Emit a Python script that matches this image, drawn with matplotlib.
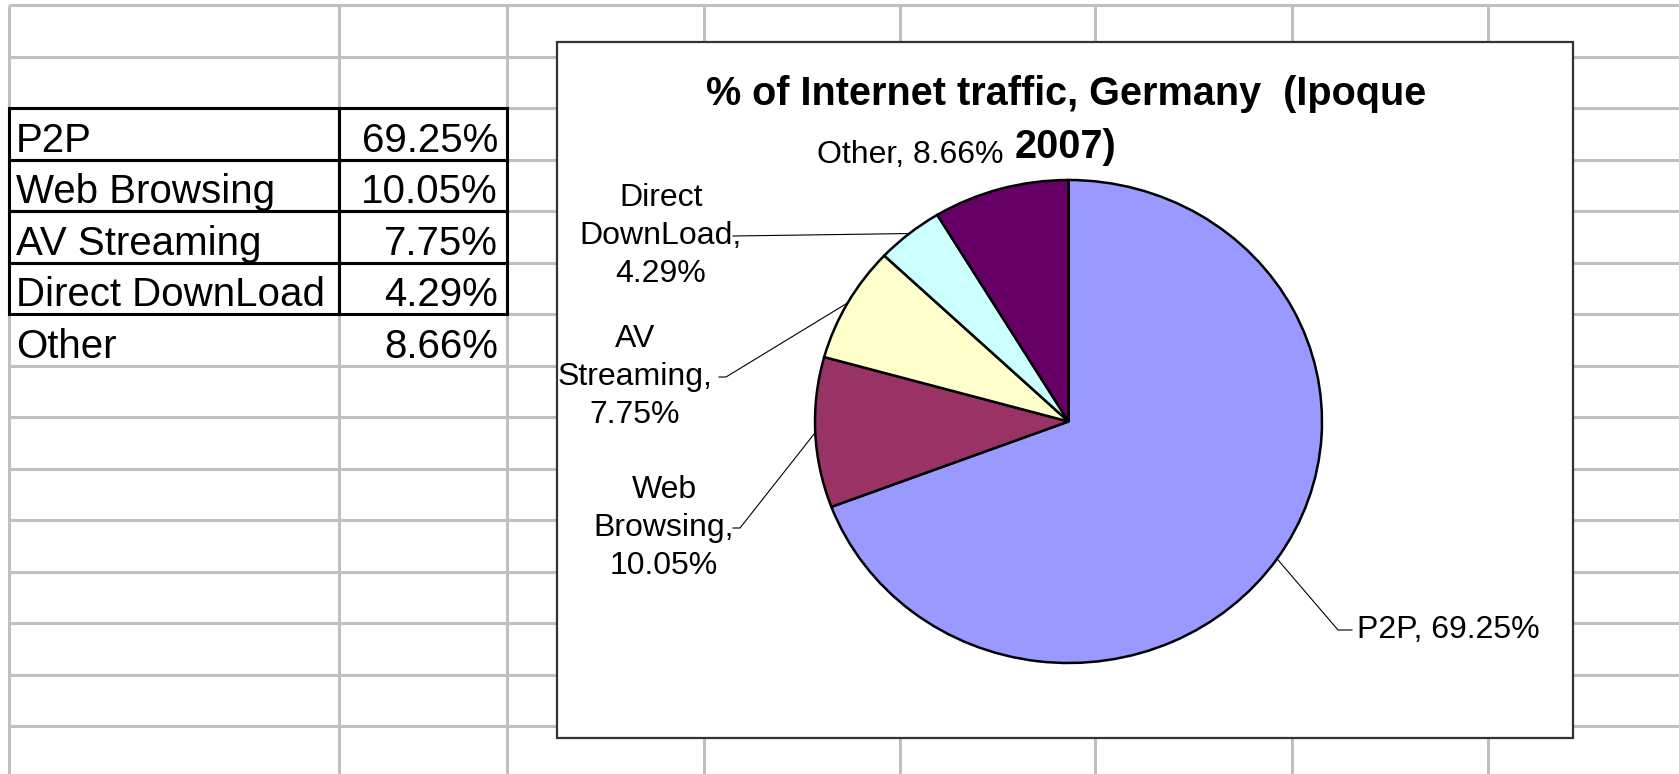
import numpy as np
import matplotlib
matplotlib.use("Agg")
import matplotlib.pyplot as plt
from matplotlib.patches import Rectangle

plt.rcParams['font.family'] = ['Liberation Sans', 'DejaVu Sans']

# data from the sheet
categories = ["P2P", "Web Browsing", "AV Streaming", "Direct DownLoad", "Other"]
shares = [69.25, 10.05, 7.75, 4.29, 8.66]
share_text = ["69.25%", "10.05%", "7.75%", "4.29%", "8.66%"]
pie_labels = ["P2P, 69.25%", "Web\nBrowsing,\n10.05%", "AV\nStreaming,\n7.75%",
              "Direct\nDownLoad,\n4.29%", "Other, 8.66%"]
colors = ["#9999FF", "#993366", "#FFFFCC", "#CCFFFF", "#660066"]
title_lines = ["% of Internet traffic, Germany  (Ipoque", "2007)"]

W, H = 1679, 774

fig = plt.figure(figsize=(W / 100, H / 100), dpi=100)
bg = fig.add_axes([0, 0, 1, 1])
bg.set_xlim(0, W)
bg.set_ylim(H, 0)
bg.axis('off')

# spreadsheet grid
grid_c = "#C0C0C0"
row_y = [5.4 + 51.5 * k for k in range(15)]
col_x = [8.6, 339.4, 506.5, 703.5, 899.5, 1095.4, 1292.4, 1488.4]
bg.hlines(row_y, col_x[0], W, color=grid_c, lw=2.2, zorder=1)
bg.vlines(col_x, row_y[0], H, color=grid_c, lw=2.2, zorder=1)

# table with data
for i, (cat, txt) in enumerate(zip(categories, share_text)):
    top, bot = row_y[2 + i], row_y[3 + i]
    if i < 4:
        for x0, x1 in [(col_x[0], col_x[1]), (col_x[1], col_x[2])]:
            bg.add_patch(Rectangle((x0, top), x1 - x0, bot - top, fill=False,
                                   ec="black", lw=2.2, zorder=3))
    bg.text(16, bot - 8, cat, fontsize=29, va='baseline', ha='left', zorder=4)
    bg.text(498, bot - 8, txt, fontsize=29, va='baseline', ha='right', zorder=4)

# chart area
bx0, by0, bx1, by1 = 557, 42, 1573, 738
bg.add_patch(Rectangle((bx0, by0), bx1 - bx0, by1 - by0, fc="white",
                       ec="#333333", lw=1.6, zorder=5))

# title, wrapped like the original
for line, ty in zip(title_lines, [94, 147]):
    bg.text(1066, ty, line, fontsize=28.5, fontweight='bold', ha='center',
            va='center', zorder=6)

# pie
px0, py0, px1, py1 = 815, 180, 1322, 663
pax = fig.add_axes([px0 / W, (H - py1) / H, (px1 - px0) / W, (py1 - py0) / H])
wedges, _ = pax.pie(shares, colors=colors, startangle=90, counterclock=False,
                    radius=1, wedgeprops=dict(edgecolor="black", linewidth=1.8))
pax.set_xlim(-1, 1)
pax.set_ylim(-1, 1)
pax.set_aspect('auto')
pax.axis('off')


def edge_point(w):
    mid = np.deg2rad((w.theta1 + w.theta2) / 2)
    disp = pax.transData.transform((np.cos(mid), np.sin(mid)))
    return bg.transData.inverted().transform(disp)


# label layout: text position, alignment, leader bend points
label_pos = [(1357, 630, 'left'), (664, 528, 'center'), (635, 377, 'center'),
             (661, 236, 'center'), (910, 155, 'center')]
leader_bends = [[(1338, 630), (1352, 630)],
                [(740, 528), (733, 528)],
                [(726, 377), (719, 377)],
                [(733, 236)],
                []]

for w, lab, (tx, ty, ha), bends in zip(wedges, pie_labels, label_pos, leader_bends):
    bg.text(tx, ty, lab, fontsize=23, ha=ha, va='center', multialignment='center',
            linespacing=1.36, zorder=6)
    if bends:
        ex, ey = edge_point(w)
        xs = [ex] + [p[0] for p in bends]
        ys = [ey] + [p[1] for p in bends]
        bg.plot(xs, ys, color="black", lw=0.8, zorder=6)

fig.savefig("out.png", dpi=100)
